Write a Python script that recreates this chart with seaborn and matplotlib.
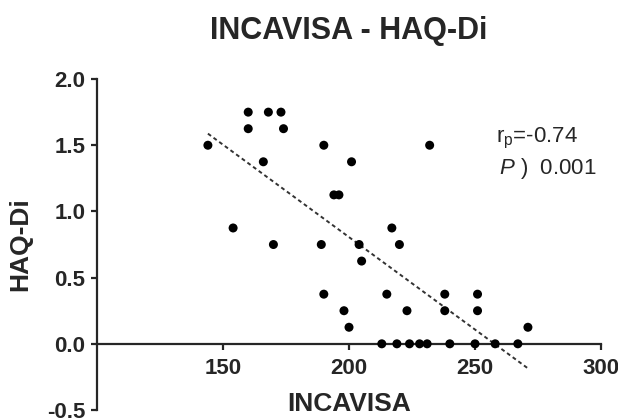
import matplotlib
matplotlib.use("Agg")
import matplotlib.pyplot as plt
import numpy as np
import pandas as pd
import seaborn as sns

# values
incavisa = [144, 154, 160, 160, 166, 168, 170, 173, 174, 189,
            190, 190, 194, 196, 198, 200, 201, 204, 205, 213,
            215, 217, 219, 220, 223, 224, 228, 231, 232, 238,
            238, 240, 250, 251, 251, 258, 267, 271]
haq_di = [1.5, 0.875, 1.75, 1.625, 1.375, 1.75, 0.75, 1.75, 1.625, 0.75,
          1.5, 0.375, 1.125, 1.125, 0.25, 0.125, 1.375, 0.75, 0.625, 0.0,
          0.375, 0.875, 0.0, 0.75, 0.25, 0.0, 0.0, 0.0, 1.5, 0.375,
          0.25, 0.0, 0.0, 0.375, 0.25, 0.0, 0.0, 0.125]
x_ticks = [150, 200, 250, 300]
y_ticks = [-0.5, 0.0, 0.5, 1.0, 1.5, 2.0]
r_label = r"r$_\mathregular{p}$=-0.74"
p_label = r"$\mathit{P}$ )  0.001"

df = pd.DataFrame({"INCAVISA": incavisa, "HAQ-Di": haq_di})

sns.set_style("ticks")
plt.rcParams["font.family"] = ["Liberation Sans", "DejaVu Sans"]
plt.rcParams["mathtext.fontset"] = "custom"
plt.rcParams["mathtext.rm"] = "Liberation Sans"
plt.rcParams["mathtext.it"] = "Liberation Sans:italic"

fig = plt.figure(figsize=(6.18, 4.2), dpi=100)
ax = fig.add_axes([0.157, 0.0238, 0.8155, 0.788])

sns.scatterplot(data=df, x="INCAVISA", y="HAQ-Di", ax=ax, color="black",
                s=42, edgecolor="none", zorder=3)
sns.regplot(data=df, x="INCAVISA", y="HAQ-Di", ax=ax, scatter=False, ci=None,
            line_kws={"color": "#333333", "linewidth": 1.4,
                      "linestyle": (0, (2.0, 1.6))})

ax.set_xlim(100, 300)
ax.set_ylim(-0.5, 2.0)
ax.set_xticks(x_ticks)
ax.set_yticks(y_ticks)
ax.set_yticklabels([f"{v:.1f}" for v in y_ticks])

ax.spines["right"].set_visible(False)
ax.spines["top"].set_visible(False)
ax.spines["bottom"].set_position(("data", 0))
for side in ("left", "bottom"):
    ax.spines[side].set_linewidth(1.6)
ax.tick_params(axis="both", width=1.6, length=4.5, labelsize=16)
ax.tick_params(axis="x", pad=6)
ax.tick_params(axis="y", pad=4)
for lbl in ax.get_xticklabels() + ax.get_yticklabels():
    lbl.set_fontweight("bold")

ax.set_xlabel("INCAVISA", fontsize=19, fontweight="bold")
ax.set_ylabel("HAQ-Di", fontsize=19, fontweight="bold")
ax.xaxis.set_label_coords(0.5, 0.055)
ax.yaxis.set_label_coords(-0.128, 0.5)
ax.set_title("INCAVISA - HAQ-Di", fontsize=22, fontweight="bold", pad=29)

ax.text(258.5, 1.52, r_label, fontsize=16, ha="left", va="baseline")
ax.text(259.7, 1.28, p_label, fontsize=16, ha="left", va="baseline")

fig.savefig("out.png", dpi=100)
